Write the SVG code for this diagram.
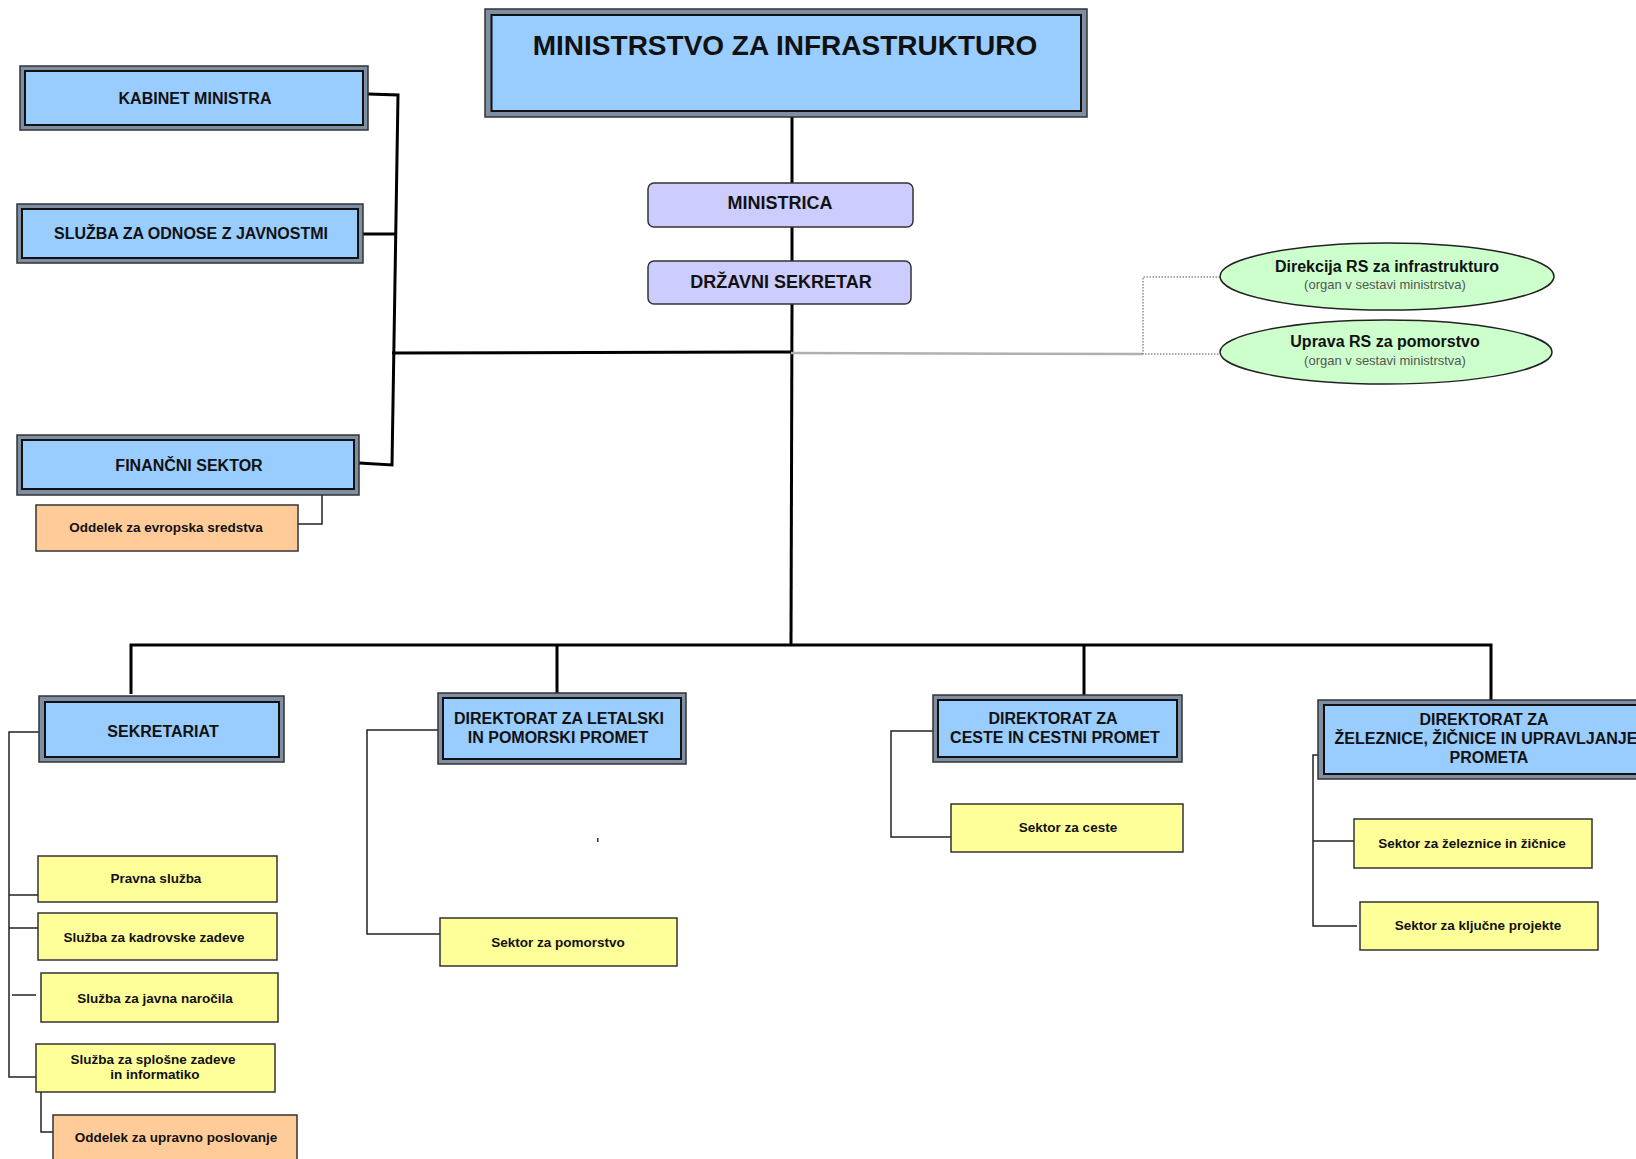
<svg xmlns="http://www.w3.org/2000/svg" width="1636" height="1159" viewBox="0 0 1636 1159">
<defs>
<style>
.ob{fill:#7f8fa3;stroke:#333;stroke-width:1.5}
.ib{fill:#99ccff;stroke:#111;stroke-width:2}
.lv{fill:#ccccff;stroke:#333;stroke-width:1.5}
.ye{fill:#ffff99;stroke:#333;stroke-width:1.5}
.or{fill:#ffcc99;stroke:#333;stroke-width:1.5}
.gr{fill:#ccffcc;stroke:#222;stroke-width:1.5}
text{font-family:"Liberation Sans",Arial,sans-serif;fill:#111;text-anchor:middle}
.tt{font-size:28px;font-weight:bold}
.tb{font-size:16px;font-weight:bold}
.tl{font-size:18px;font-weight:bold}
.ty{font-size:13.5px;font-weight:bold}
.te{font-size:16px;font-weight:bold}
.ts{font-size:13px;fill:#555}
.c3{fill:none;stroke:#000;stroke-width:3}
.c2{fill:none;stroke:#111;stroke-width:2}
.c1{fill:none;stroke:#222;stroke-width:1.5}
.dot{fill:none;stroke:#555;stroke-width:1;stroke-dasharray:1.5 1.5}
</style>
</defs>
<rect width="1636" height="1159" fill="#fff"/>
<g id="connectors">
<line class="c3" x1="792" y1="117" x2="792" y2="183"/>
<line class="c3" x1="792" y1="227" x2="792" y2="261"/>
<path class="c3" d="M792,304 L791,645"/>
<path class="c3" d="M392,353 L791,352"/>
<path class="c3" d="M368,94 L398,95 L392,465 L359,463"/>
<line class="c3" x1="363" y1="234" x2="396" y2="234"/>
<path class="c1" d="M322,489 L322,524 L298,524"/>
<line stroke="#b0b0b0" stroke-width="2.5" x1="791" y1="353" x2="1143" y2="354"/>
<path class="dot" d="M1220,277 L1143,277 L1143,354 L1220,354"/>
<path class="c3" d="M131,694 L131,645 L1491,645 L1491,700"/>
<line class="c3" x1="557" y1="645" x2="557" y2="693"/>
<line class="c3" x1="1084" y1="645" x2="1084" y2="695"/>
<path class="c1" d="M39,732 L9,732 L9,1077 L36,1077"/>
<line class="c1" x1="9" y1="895" x2="38" y2="895"/>
<line class="c1" x1="9" y1="928" x2="38" y2="928"/>
<line class="c1" x1="12" y1="995" x2="36" y2="995"/>
<path class="c1" d="M41,1092 L41,1132 L53,1132"/>
<path class="c1" d="M438,730 L367,730 L367,934 L446,934"/>
<path class="c1" d="M933,731 L891,731 L891,837 L951,837"/>
<path class="c1" d="M1318,755 L1313,755 L1313,926 L1357,926"/>
<line class="c1" x1="1313" y1="841" x2="1354" y2="841"/>
<rect x="597" y="838" width="1.5" height="4" fill="#333"/>
</g>
<g id="ministrstvo">
<rect class="ob" x="485" y="9" width="602" height="108"/>
<rect class="ib" x="491.5" y="15" width="589.5" height="96"/>
<text class="tt" x="785" y="55">MINISTRSTVO ZA INFRASTRUKTURO</text>
</g>
<g id="ministrica">
<rect class="lv" x="648" y="183" width="265" height="44" rx="6"/>
<text class="tl" x="780" y="209">MINISTRICA</text>
</g>
<g id="drzavni-sekretar">
<rect class="lv" x="648" y="261" width="263" height="43" rx="6"/>
<text class="tl" x="781" y="288">DRŽAVNI SEKRETAR</text>
</g>
<g id="kabinet">
<rect class="ob" x="20" y="66" width="348" height="64"/>
<rect class="ib" x="25" y="71" width="338" height="54"/>
<text class="tb" x="195" y="104">KABINET MINISTRA</text>
</g>
<g id="sluzba-javnost">
<rect class="ob" x="17" y="204" width="346" height="59"/>
<rect class="ib" x="22" y="209" width="336" height="49"/>
<text class="tb" x="191" y="239">SLUŽBA ZA ODNOSE Z JAVNOSTMI</text>
</g>
<g id="financni">
<rect class="ob" x="17" y="435" width="342" height="60"/>
<rect class="ib" x="22" y="440" width="332" height="49"/>
<text class="tb" x="189" y="471">FINANČNI SEKTOR</text>
</g>
<g id="oddelek-evropska">
<rect class="or" x="36" y="505" width="262" height="46"/>
<text class="ty" x="166" y="532">Oddelek za evropska sredstva</text>
</g>
<g id="direkcija">
<ellipse class="gr" cx="1387" cy="276.5" rx="167" ry="33.5"/>
<text class="te" x="1387" y="272">Direkcija RS za infrastrukturo</text>
<text class="ts" x="1385" y="289">(organ v sestavi ministrstva)</text>
</g>
<g id="uprava">
<ellipse class="gr" cx="1386" cy="352" rx="166" ry="32"/>
<text class="te" x="1385" y="347">Uprava RS za pomorstvo</text>
<text class="ts" x="1385" y="365">(organ v sestavi ministrstva)</text>
</g>
<g id="sekretariat">
<rect class="ob" x="39" y="696" width="245" height="66"/>
<rect class="ib" x="45" y="702" width="234" height="55"/>
<text class="tb" x="163" y="737">SEKRETARIAT</text>
</g>
<g id="pravna">
<rect class="ye" x="38" y="856" width="239" height="46"/>
<text class="ty" x="156" y="883">Pravna služba</text>
</g>
<g id="kadrovske">
<rect class="ye" x="38" y="913" width="239" height="47"/>
<text class="ty" x="154" y="942">Služba za kadrovske zadeve</text>
</g>
<g id="javna-narocila">
<rect class="ye" x="41" y="973" width="237" height="49"/>
<text class="ty" x="155" y="1003">Služba za javna naročila</text>
</g>
<g id="splosne">
<rect class="ye" x="36" y="1044" width="239" height="48"/>
<text class="ty" x="153" y="1064">Služba za splošne zadeve</text>
<text class="ty" x="155" y="1079">in informatiko</text>
</g>
<g id="oddelek-upravno">
<rect class="or" x="53" y="1115" width="244" height="50"/>
<text class="ty" x="176" y="1142">Oddelek za upravno poslovanje</text>
</g>
<g id="dir-letalski">
<rect class="ob" x="438" y="693" width="248" height="71"/>
<rect class="ib" x="443" y="698" width="238" height="61"/>
<text class="tb" x="559" y="724">DIREKTORAT ZA LETALSKI</text>
<text class="tb" x="558" y="743">IN POMORSKI PROMET</text>
</g>
<g id="sektor-pomorstvo">
<rect class="ye" x="440" y="918" width="237" height="48"/>
<text class="ty" x="558" y="947">Sektor za pomorstvo</text>
</g>
<g id="dir-ceste">
<rect class="ob" x="933" y="695" width="249" height="67"/>
<rect class="ib" x="938" y="700" width="239" height="57"/>
<text class="tb" x="1053" y="724">DIREKTORAT ZA</text>
<text class="tb" x="1055" y="743">CESTE IN CESTNI PROMET</text>
</g>
<g id="sektor-ceste">
<rect class="ye" x="951" y="804" width="232" height="48"/>
<text class="ty" x="1068" y="832">Sektor za ceste</text>
</g>
<g id="dir-zeleznice">
<rect class="ob" x="1318" y="700" width="340" height="79"/>
<rect class="ib" x="1324" y="705" width="330" height="69"/>
<text class="tb" x="1484" y="725">DIREKTORAT ZA</text>
<text class="tb" x="1486" y="744">ŽELEZNICE, ŽIČNICE IN UPRAVLJANJE</text>
<text class="tb" x="1489" y="763">PROMETA</text>
</g>
<g id="sektor-zeleznice">
<rect class="ye" x="1354" y="819" width="238" height="49"/>
<text class="ty" x="1472" y="848">Sektor za železnice in žičnice</text>
</g>
<g id="sektor-kljucne">
<rect class="ye" x="1360" y="902" width="238" height="48"/>
<text class="ty" x="1478" y="930">Sektor za ključne projekte</text>
</g>
</svg>
